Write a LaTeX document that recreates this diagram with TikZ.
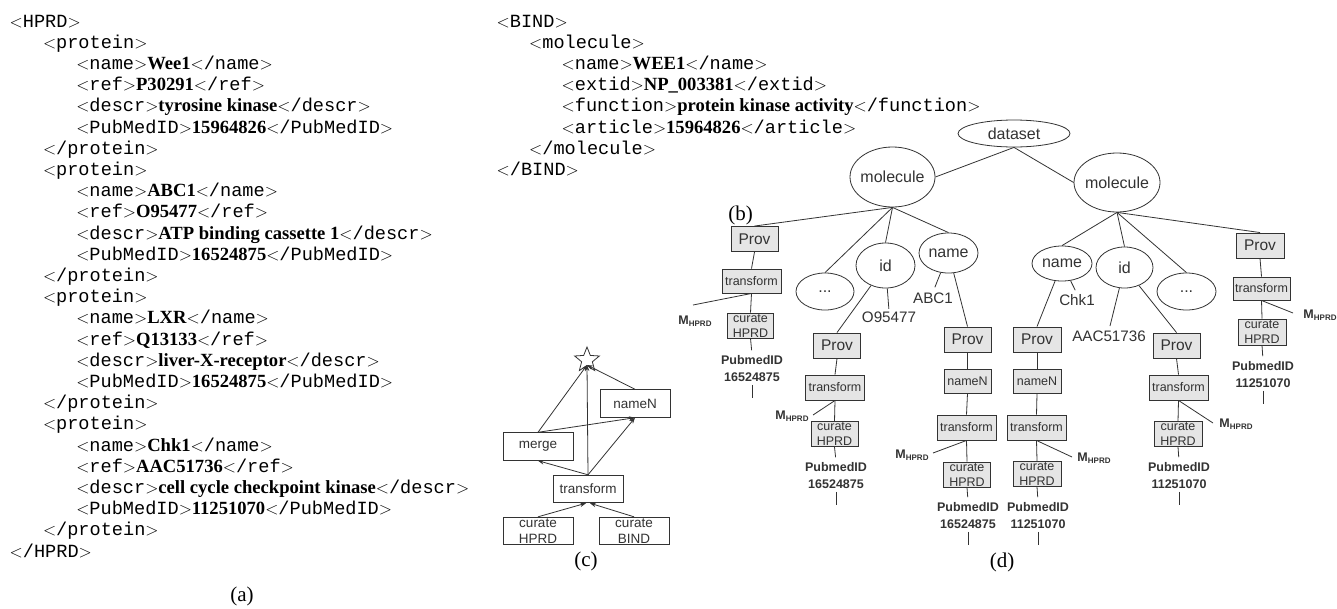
\documentclass[tikz,border=0pt]{standalone}
\usepackage{fontspec}
\setmainfont{Liberation Serif}
\setsansfont{Liberation Sans}
\setmonofont{Liberation Mono}
\usetikzlibrary{shapes.geometric,arrows.meta}
\definecolor{ink}{gray}{0.2}
\definecolor{boxfill}{gray}{0.9}
\newcommand\myO[1]{$<$\texttt{#1}$>$}
\newcommand\myC[1]{$<$\texttt{/#1}$>$}
\newcommand\myV[1]{\textbf{#1}}
\newcommand\nowid[1]{\makebox[0pt]{#1}}
\newcommand\mhprd{M\raisebox{-2.5pt}{\fontsize{8}{8}\selectfont HPRD}}
\begin{document}
\begin{tikzpicture}[x=1pt,y=-1pt,
  lst/.style={anchor=base west, inner sep=0pt, font=\fontsize{18.6}{21.2}\selectfont},
  figcap/.style={inner sep=0pt, font=\fontsize{21}{21}\selectfont},
  ell/.style={ellipse, draw=ink, line width=0.8pt, inner sep=0pt, text=ink, font=\sffamily\fontsize{16}{16}\selectfont},
  pbox/.style={rectangle, draw=ink, fill=boxfill, line width=0.9pt, inner sep=0pt, text=ink, align=center, font=\sffamily\fontsize{12.5}{15}\selectfont},
  provbox/.style={pbox, minimum width=47pt, minimum height=25pt, font=\sffamily\fontsize{15.5}{15.5}\selectfont},
  tbox/.style={pbox, minimum width=59pt, minimum height=25pt},
  cbox/.style={pbox, minimum width=47pt, minimum height=25pt},
  nbox/.style={pbox, minimum width=47pt, minimum height=24pt},
  valtxt/.style={inner sep=1pt, text=ink, font=\sffamily\fontsize{15.2}{15.2}\selectfont},
  pub/.style={inner sep=1pt, text=ink, align=center, font=\sffamily\bfseries\fontsize{12.5}{17}\selectfont},
  mlab/.style={inner sep=0pt, text=ink, font=\sffamily\bfseries\fontsize{12.5}{12.5}\selectfont},
  conn/.style={draw=ink, line width=0.8pt},
  cb/.style={rectangle, draw=ink, line width=0.9pt, inner sep=0pt, minimum width=70pt, minimum height=27.5pt, text=ink, align=center, font=\sffamily\fontsize{13.5}{16}\selectfont},
  arr/.style={draw=ink, line width=0.8pt, -{Stealth[length=6pt,width=4.5pt]}}
]
\fill[white] (0,0) rectangle (1337,608);
\useasboundingbox (0,0) rectangle (1337,608);

% ---------- (a) HPRD listing ----------
\foreach \lv/\t [count=\i from 0] in {
0/{\myO{HPRD}},
1/{\myO{protein}},
2/{\myO{name}\myV{Wee1}\myC{name}},
2/{\myO{ref}\myV{P30291}\myC{ref}},
2/{\myO{descr}\myV{tyrosine kinase}\myC{descr}},
2/{\myO{PubMedID}\myV{15964826}\myC{PubMedID}},
1/{\myC{protein}},
1/{\myO{protein}},
2/{\myO{name}\myV{ABC1}\myC{name}},
2/{\myO{ref}\myV{O95477}\myC{ref}},
2/{\myO{descr}\myV{ATP binding cassette 1}\myC{descr}},
2/{\myO{PubMedID}\myV{16524875}\myC{PubMedID}},
1/{\myC{protein}},
1/{\myO{protein}},
2/{\myO{name}\myV{LXR}\myC{name}},
2/{\myO{ref}\myV{Q13133}\myC{ref}},
2/{\myO{descr}\myV{liver-X-receptor}\myC{descr}},
2/{\myO{PubMedID}\myV{16524875}\myC{PubMedID}},
1/{\myC{protein}},
1/{\myO{protein}},
2/{\myO{name}\myV{Chk1}\myC{name}},
2/{\myO{ref}\myV{AAC51736}\myC{ref}},
2/{\myO{descr}\myV{cell cycle checkpoint kinase}\myC{descr}},
2/{\myO{PubMedID}\myV{11251070}\myC{PubMedID}},
1/{\myC{protein}},
0/{\myC{HPRD}}}
  \node[lst] (a\i) at ({9.5+33.3*\lv},{27+21.2*\i}) {\t};

% ---------- (b) BIND listing ----------
\foreach \lv/\t [count=\i from 0] in {
0/{\myO{BIND}},
1/{\myO{molecule}},
2/{\myO{name}\myV{WEE1}\myC{name}},
2/{\myO{extid}\myV{NP\_003381}\myC{extid}},
2/{\myO{function}\myV{protein kinase activity}\myC{function}},
2/{\myO{article}\myV{15964826}\myC{article}},
1/{\myC{molecule}},
0/{\myC{BIND}}}
  \node[lst] (b\i) at ({496.5+32.5*\lv},{27+21.2*\i}) {\t};

% ---------- captions ----------
\node[figcap] (capA) at (242,596) {(a)};
\node[figcap] (capB) at (740.5,215) {(b)};
\node[figcap] (capC) at (586,561) {(c)};
\node[figcap] (capD) at (1002,562) {(d)};

% ---------- (c) ----------
\node[star, star points=5, star point ratio=2.3, draw=ink, line width=0.8pt, minimum size=26pt, inner sep=0pt] (star) at (587,360) {};
\node[cb] (cNameN) at (635,403.5) {nameN};
\node[cb] (cMerge) at (538,446.5) {merge};
\node[cb] (cTrans) at (588,489) {transform};
\node[cb] (cCurH) at (538,531) {curate\\HPRD};
\node[cb] (cCurB) at (634,531) {curate\\BIND};
\draw[arr] (cMerge.north) -- ([yshift=-5pt]star.center);
\draw[arr] (cTrans.north) -- ([yshift=-5pt]star.center);
\draw[arr] (cNameN.north) -- ([yshift=-5pt]star.center);
\draw[arr] (cMerge.north) -- (cNameN.south);
\draw[arr] (cTrans.north) -- (cNameN.south);
\draw[arr] (cTrans.north) -- (cMerge.south);
\draw[arr] (cCurH.north) -- ([xshift=-2pt]cTrans.south);
\draw[arr] (cCurB.north) -- ([xshift=2pt]cTrans.south);

% ---------- (d) ----------
\node[ell, minimum width=112pt, minimum height=27pt] (dataset) at (1014,133.5) {\nowid{dataset}};
\node[ell, minimum width=85pt, minimum height=60pt] (molL) at (892.5,177) {\nowid{molecule}};
\node[ell, minimum width=86pt, minimum height=59pt] (molR) at (1117,182.5) {\nowid{molecule}};
\draw[conn] (dataset.south) -- (molL.east);
\draw[conn] (dataset.south) -- (molR.west);

% left molecule children
\node[provbox] (provL) at (754.5,239) {Prov};
\node[tbox, minimum height=24pt] (transL) at (751.5,281) {transform};
\node[cbox, minimum width=46pt] (curL) at (750.5,325.5) {curate\\HPRD};
\node[ell, minimum width=58pt, minimum height=37pt] (dotsL) at (825,291.5) {...};
\node[ell, minimum width=59pt, minimum height=45pt] (idL) at (885.5,265.5) {id};
\node[ell, minimum width=59pt, minimum height=40pt] (nameL) at (948.5,253) {\nowid{name}};
\draw[conn] (molL.south) -- (provL.north);
\draw[conn] (molL.south) -- (dotsL.north);
\draw[conn] (molL.south) -- (idL.north);
\draw[conn] (molL.south) -- (nameL.north);

\node[valtxt] (abc) at (933,298.5) {ABC1};
\node[valtxt] (o95) at (889,317.5) {O95477};
\draw[conn, shorten >=5pt] (nameL) -- (abc.north);
\draw[conn, shorten >=2pt] (idL) -- (o95.north);

% left chain
\draw[conn] (provL.south) -- (transL.north);
\draw[conn] (transL.south) -- (curL.north);
\node[pub] (pubL) at (752,368.5) {PubmedID\\16524875};
\coordinate (endL) at (752,398);
\draw[conn, shorten >=4pt] (curL.south) -- (pubL.north);
\draw[conn, shorten <=2pt] (pubL.south) -- (endL);
\node[mlab] (mL) at (695,321) {\mhprd};
\coordinate (mLe) at (693,305);
\draw[conn] (transL.south) -- (mLe);

% id chain (left)
\node[provbox] (provM) at (837,345.5) {Prov};
\node[tbox] (transM) at (835,387.5) {transform};
\node[cbox] (curM) at (834.5,434) {curate\\HPRD};
\draw[conn] (idL) -- (provM.north);
\draw[conn] (provM.south) -- (transM.north);
\draw[conn] (transM.south) -- (curM.north);
\node[pub] (pubM) at (836,475.5) {PubmedID\\16524875};
\coordinate (endM) at (836,505);
\draw[conn, shorten >=4pt] (curM.south) -- (pubM.north);
\draw[conn, shorten <=2pt] (pubM.south) -- (endM);
\node[mlab] (mM) at (792,416) {\mhprd};
\coordinate (mMe) at (813,415);
\draw[conn] (transM.south) -- (mMe);

% name chain (left)
\node[provbox] (provN) at (967.5,339.5) {Prov};
\node[nbox] (nnN) at (967.5,381) {nameN};
\node[tbox] (transN) at (966.5,427.5) {transform};
\node[cbox] (curN) at (967,474.5) {curate\\HPRD};
\draw[conn] (nameL) -- (provN.north);
\draw[conn] (provN.south) -- (nnN.north);
\draw[conn] (nnN.south) -- (transN.north);
\draw[conn] (transN.south) -- (curN.north);
\node[pub] (pubN) at (968,515.5) {PubmedID\\16524875};
\coordinate (endN) at (968,545);
\draw[conn, shorten >=4pt] (curN.south) -- (pubN.north);
\draw[conn, shorten <=2pt] (pubN.south) -- (endN);
\node[mlab] (mN) at (912,455) {\mhprd};
\coordinate (mNe) at (933,453);
\draw[conn] (transN.south) -- (mNe);

% right molecule children
\node[ell, minimum width=60pt, minimum height=35pt] (nameR) at (1062,263.5) {\nowid{name}};
\node[ell, minimum width=57pt, minimum height=41pt] (idR) at (1124.5,267.5) {id};
\node[ell, minimum width=59pt, minimum height=37pt] (dotsR) at (1186.5,291.5) {...};
\node[provbox, minimum width=48pt] (provR) at (1260,245.5) {Prov};
\draw[conn] (molR.south) -- (nameR.north);
\draw[conn] (molR.south) -- (idR.north);
\draw[conn] (molR.south) -- (dotsR.north);
\draw[conn] (molR.south) -- (provR.north);

\node[valtxt] (chk) at (1077,300.5) {Chk1};
\node[valtxt] (aac) at (1109,336.5) {AAC51736};
\draw[conn, shorten >=4pt] (nameR) -- (chk.north);
\draw[conn, shorten >=4pt] (idR) -- (aac.north);

% name chain (right)
\node[provbox, minimum width=48pt] (provC) at (1037,339.5) {Prov};
\node[nbox, minimum width=48pt] (nnC) at (1037,381) {nameN};
\node[tbox] (transC) at (1036.5,427.5) {transform};
\node[cbox, minimum width=48pt] (curC) at (1037,474) {curate\\HPRD};
\draw[conn] (nameR) -- (provC.north);
\draw[conn] (provC.south) -- (nnC.north);
\draw[conn] (nnC.south) -- (transC.north);
\draw[conn] (transC.south) -- (curC.north);
\node[pub] (pubC) at (1038,515.5) {PubmedID\\11251070};
\coordinate (endC) at (1038,545);
\draw[conn, shorten >=4pt] (curC.south) -- (pubC.north);
\draw[conn, shorten <=2pt] (pubC.south) -- (endC);
\node[mlab] (mC) at (1094,458) {\mhprd};
\coordinate (mCe) at (1072,457);
\draw[conn] (transC.south) -- (mCe);

% id chain (right)
\node[provbox] (provA) at (1176.5,345.5) {Prov};
\node[tbox] (transA) at (1178.5,387.5) {transform};
\node[cbox, minimum width=48pt] (curA) at (1178,434) {curate\\HPRD};
\draw[conn] (idR) -- (provA.north);
\draw[conn] (provA.south) -- (transA.north);
\draw[conn] (transA.south) -- (curA.north);
\node[pub] (pubA) at (1179,475.5) {PubmedID\\11251070};
\coordinate (endA) at (1179,505);
\draw[conn, shorten >=4pt] (curA.south) -- (pubA.north);
\draw[conn, shorten <=2pt] (pubA.south) -- (endA);
\node[mlab] (mA) at (1236,424) {\mhprd};
\coordinate (mAe) at (1213,423);
\draw[conn] (transA.south) -- (mAe);

% prov chain (right)
\node[tbox, minimum width=57pt, minimum height=23pt] (transR) at (1261.5,288.5) {transform};
\node[cbox, minimum width=48pt, minimum height=26pt] (curR) at (1262,332) {curate\\HPRD};
\draw[conn] (provR.south) -- (transR.north);
\draw[conn] (transR.south) -- (curR.north);
\node[pub] (pubR) at (1263,374.5) {PubmedID\\11251070};
\coordinate (endR) at (1263,404);
\draw[conn, shorten >=4pt] (curR.south) -- (pubR.north);
\draw[conn, shorten <=2pt] (pubR.south) -- (endR);
\node[mlab] (mR) at (1320,315) {\mhprd};
\coordinate (mRe) at (1293,313);
\draw[conn] (transR.south) -- (mRe);
\end{tikzpicture}
\end{document}
